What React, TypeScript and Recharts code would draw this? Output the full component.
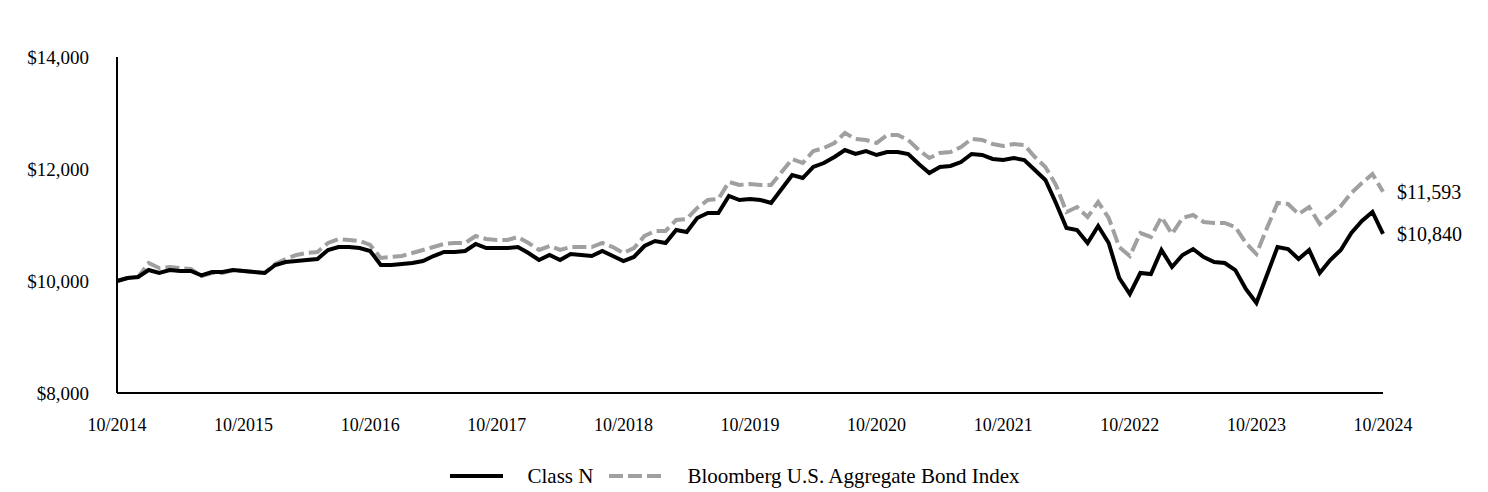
import { LineChart, Line, XAxis, YAxis, Legend } from "recharts";

const months: string[] = [];
for (let i = 0; i <= 120; i++) {
    const m = ((9 + i) % 12) + 1;
    const y = 2014 + Math.floor((9 + i) / 12);
    months.push(`${m}/${y}`);
}

const classN = [
    10000, 10054, 10071, 10196, 10143, 10196, 10179, 10179, 10100, 10161, 10161, 10196,
    10179, 10161, 10143, 10286, 10339, 10357, 10375, 10393, 10554, 10607, 10607, 10589,
    10536, 10286, 10286, 10304, 10321, 10357, 10446, 10518, 10518, 10536, 10661, 10589,
    10589, 10589, 10607, 10500, 10375, 10464, 10375, 10482, 10464, 10446, 10536, 10446,
    10357, 10429, 10625, 10714, 10679, 10911, 10875, 11125, 11214, 11214, 11518, 11446,
    11464, 11446, 11393, 11643, 11893, 11839, 12036, 12107, 12214, 12339, 12268, 12321,
    12250, 12304, 12304, 12268, 12089, 11929, 12036, 12054, 12125, 12268, 12250, 12179,
    12161, 12196, 12161, 11982, 11804, 11393, 10946, 10911, 10679, 10982, 10679, 10054,
    9768, 10143, 10125, 10554, 10250, 10464, 10571, 10429, 10339, 10321, 10196, 9857,
    9607, 10107, 10607, 10571, 10393, 10554, 10143, 10375, 10554, 10857, 11071, 11232,
    10840,
];

const bloomberg = [
    10000, 10054, 10071, 10321, 10232, 10250, 10232, 10214, 10089, 10143, 10143, 10196,
    10179, 10161, 10143, 10304, 10393, 10464, 10500, 10518, 10679, 10750, 10732, 10714,
    10643, 10411, 10429, 10446, 10500, 10554, 10607, 10661, 10679, 10679, 10804, 10750,
    10732, 10732, 10786, 10679, 10554, 10625, 10554, 10607, 10607, 10607, 10679, 10607,
    10500, 10589, 10804, 10893, 10893, 11089, 11107, 11304, 11446, 11464, 11768, 11714,
    11732, 11714, 11714, 11946, 12179, 12107, 12321, 12375, 12464, 12643, 12536, 12518,
    12464, 12607, 12607, 12518, 12339, 12196, 12286, 12304, 12393, 12536, 12518, 12446,
    12411, 12446, 12429, 12214, 12036, 11714, 11232, 11321, 11143, 11411, 11125, 10607,
    10446, 10857, 10786, 11143, 10839, 11125, 11179, 11054, 11036, 11036, 10964, 10679,
    10482, 10946, 11393, 11375, 11196, 11321, 11018, 11179, 11339, 11571, 11750, 11911,
    11593,
];

const xTicks = [
    "10/2014", "10/2015", "10/2016", "10/2017", "10/2018", "10/2019",
    "10/2020", "10/2021", "10/2022", "10/2023", "10/2024",
];
const yTicks = [8000, 10000, 12000, 14000];

const data = months.map((month, i) => ({ month, classN: classN[i], bloomberg: bloomberg[i] }));

const FONT = "'Liberation Serif', 'Times New Roman', serif";
const fmt = (v: number) => `$${v.toLocaleString("en-US")}`;

const endLabel = (props: any) => {
    if (props.index !== data.length - 1) return null;
    return (
        <text x={props.x + 14} y={props.y} dominantBaseline="central" fontSize={20} fontFamily={FONT} fill="#000">
            {fmt(props.value)}
        </text>
    );
};

const LegendContent = () => (
    <div style={{ display: "flex", justifyContent: "center", alignItems: "center", height: 30, paddingRight: 18, fontFamily: FONT, fontSize: 21, color: "#000" }}>
        <svg width={53} height={6}><line x1={0} y1={3} x2={53} y2={3} stroke="#000" strokeWidth={4} /></svg>
        <span style={{ marginLeft: 24, marginRight: 16 }}>Class N</span>
        <svg width={54} height={6}><line x1={0} y1={3} x2={54} y2={3} stroke="#a0a0a0" strokeWidth={4} strokeDasharray="14 5" /></svg>
        <span style={{ marginLeft: 24 }}>Bloomberg U.S. Aggregate Bond Index</span>
    </div>
);

export default function App() {
    return (
        <div style={{ position: "absolute", left: 0, top: 0, background: "#fff" }}>
            <LineChart width={1488} height={492} data={data} margin={{ top: 57, right: 105, left: 0, bottom: 39 }}>
                <XAxis
                    dataKey="month"
                    ticks={xTicks}
                    interval={0}
                    tickLine={false}
                    tickSize={0}
                    tickMargin={25}
                    height={30}
                    stroke="#000"
                    strokeWidth={2}
                    tick={{ fill: "#000", fontSize: 18, fontFamily: FONT }}
                />
                <YAxis
                    domain={[8000, 14000]}
                    ticks={yTicks}
                    width={117}
                    tickLine={false}
                    tickSize={0}
                    tickMargin={28}
                    stroke="#000"
                    strokeWidth={2}
                    tickFormatter={fmt}
                    tick={{ fill: "#000", fontSize: 19, fontFamily: FONT }}
                />
                <Legend
                    verticalAlign="bottom"
                    content={<LegendContent />}
                    wrapperStyle={{ top: 461, bottom: "auto", left: 0, width: 1488, height: 30 }}
                />
                <Line
                    dataKey="bloomberg"
                    stroke="#a0a0a0"
                    strokeWidth={4}
                    strokeDasharray="14 5"
                    dot={false}
                    isAnimationActive={false}
                    label={endLabel}
                />
                <Line
                    dataKey="classN"
                    stroke="#000"
                    strokeWidth={4}
                    dot={false}
                    isAnimationActive={false}
                    label={endLabel}
                />
            </LineChart>
        </div>
    );
}
